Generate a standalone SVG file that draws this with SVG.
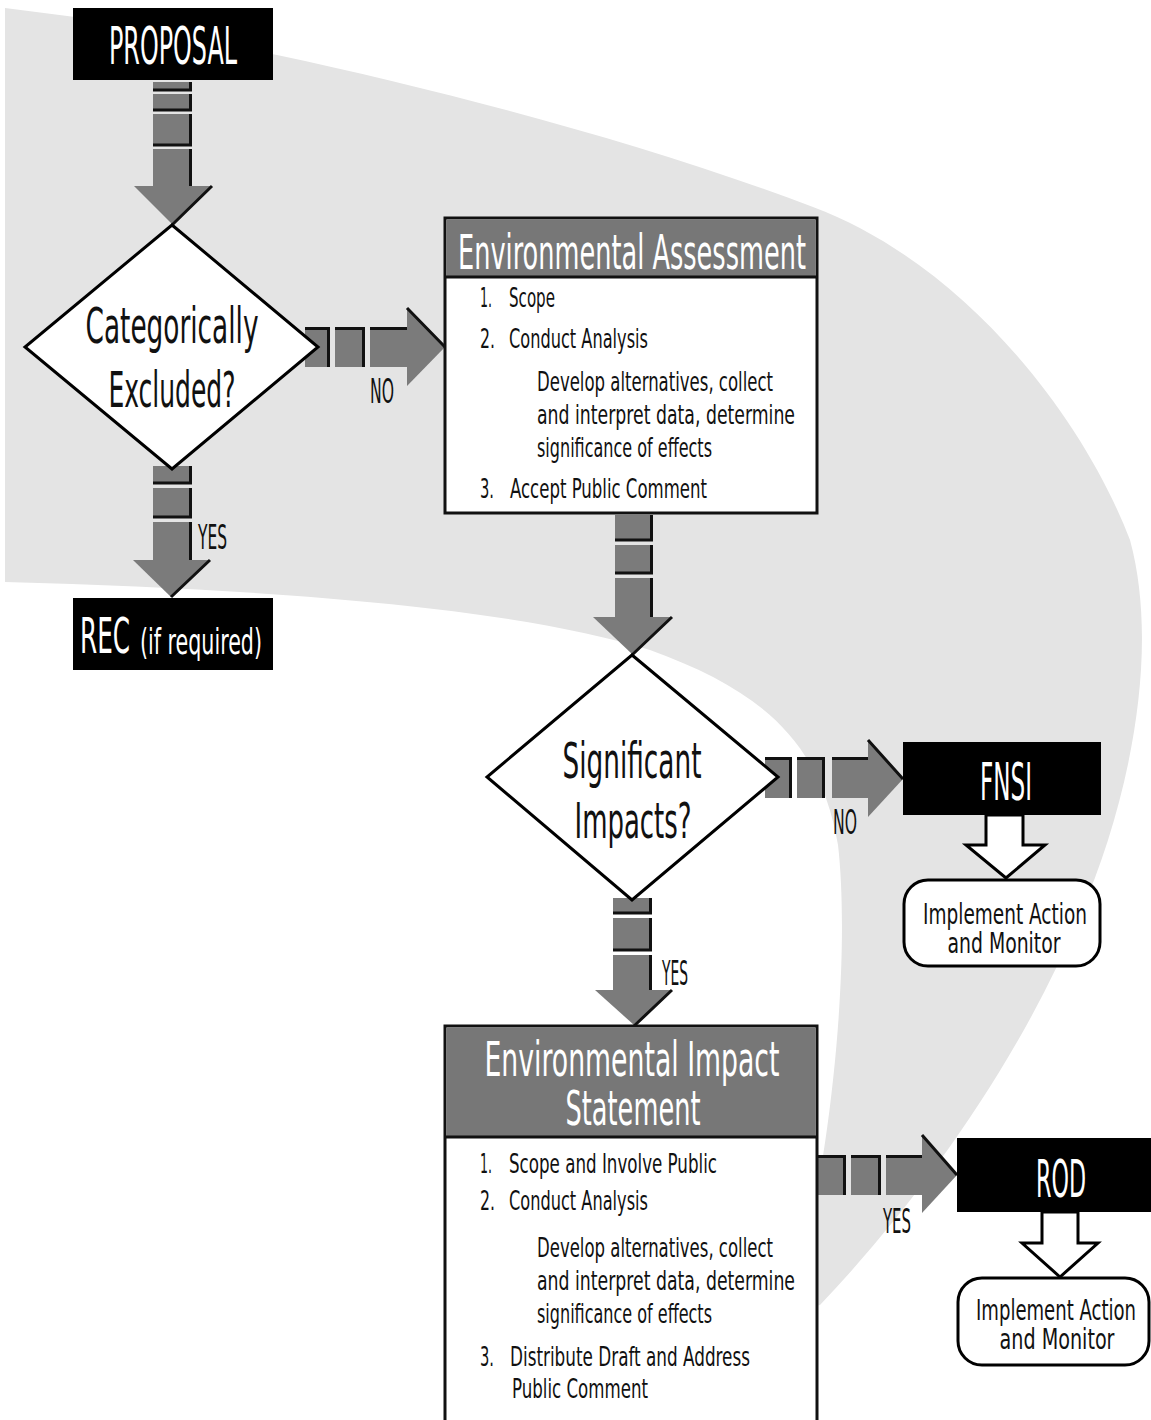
<svg xmlns="http://www.w3.org/2000/svg" width="1151" height="1420" viewBox="0 0 1151 1420">
<style>
text{font-family:"Liberation Sans Narrow","DejaVu Sans Condensed","Liberation Sans",sans-serif;}
.band{fill:#e4e4e4;}
.blk{fill:#000;}
.ar{fill:#7b7b7b;}
.sh{stroke:#111;stroke-width:3;fill:none;}
.dia{fill:#fff;stroke:#000;stroke-width:3;}
.box{fill:#fff;stroke:#111;stroke-width:3;}
.hdr{fill:#777;}
.hol{fill:#fff;stroke:#000;stroke-width:3;stroke-linejoin:miter;}
.rr{fill:#fff;stroke:#000;stroke-width:3;}
.lbl{font-size:34px;fill:#111;}
.body{font-size:27px;fill:#111;}
.dt{font-size:50px;fill:#111;text-anchor:middle;}
.ht{font-size:48px;fill:#fff;text-anchor:middle;}
.bt{font-size:52px;fill:#fff;text-anchor:middle;}
.im{font-size:28px;fill:#111;text-anchor:middle;}
</style>
<rect width="1151" height="1420" fill="#fff"/>
<path class="band" d="M5,8 L75,17 L277,55 C450,92 650,145 813,207 C960,262 1080,410 1130,540 C1160,650 1130,800 1080,915 C1020,1060 920,1200 820,1305 L790,1312 C835,1150 850,950 838,845 C820,740 760,690 650,650 C520,610 300,590 5,582 Z"/>

<g id="connectors">
  <g>
    <rect class="ar" x="153" y="82" width="39" height="8"/>
    <rect class="ar" x="153" y="94" width="39" height="16"/>
    <rect class="ar" x="153" y="114" width="39" height="31"/>
    <rect class="ar" x="153" y="149" width="39" height="38"/>
    <polygon class="ar" points="134,186 212,186 172,224"/>
    <path class="sh" d="M190.5,82 V90 H153 M190.5,94 V110 H153 M190.5,114 V145 H153 M190.5,149 V186 M212,186 L172,225"/>
  </g>
  <g>
    <rect class="ar" x="153" y="466" width="39" height="17"/>
    <rect class="ar" x="153" y="488" width="39" height="29"/>
    <rect class="ar" x="153" y="522" width="39" height="39"/>
    <polygon class="ar" points="133,560 210,560 171,597"/>
    <path class="sh" d="M190.5,466 V483 H153 M190.5,488 V517 H153 M190.5,522 V560 M210,560 L171,597"/>
    <text class="lbl" x="198" y="549" textLength="29" lengthAdjust="spacingAndGlyphs">YES</text>
  </g>
  <g>
    <rect class="ar" x="305" y="327" width="25" height="40"/>
    <rect class="ar" x="335" y="327" width="30" height="40"/>
    <rect class="ar" x="370" y="327" width="38" height="40"/>
    <polygon class="ar" points="407,308 445,347 407,386"/>
    <path class="sh" d="M305,328.5 H328.5 V367 M335,328.5 H363.5 V367 M370,328.5 H407 M407,308 L445,347"/>
    <text class="lbl" x="370" y="403" textLength="24" lengthAdjust="spacingAndGlyphs">NO</text>
  </g>
  <g>
    <rect class="ar" x="615" y="515" width="38" height="25"/>
    <rect class="ar" x="615" y="545" width="38" height="28"/>
    <rect class="ar" x="615" y="578" width="38" height="40"/>
    <polygon class="ar" points="593,617 672,617 632,654"/>
    <path class="sh" d="M651.5,515 V540 H615 M651.5,545 V573 H615 M651.5,578 V617 M672,617 L632,655"/>
  </g>
  <g>
    <rect class="ar" x="765" y="757" width="27" height="41"/>
    <rect class="ar" x="797" y="757" width="28" height="41"/>
    <rect class="ar" x="832" y="757" width="37" height="41"/>
    <polygon class="ar" points="868,740 903,779 868,817"/>
    <path class="sh" d="M765,758.5 H790.5 V798 M797,758.5 H823.5 V798 M832,758.5 H868 M868,740 L903,779"/>
    <text class="lbl" x="833" y="834" textLength="24" lengthAdjust="spacingAndGlyphs">NO</text>
  </g>
  <g>
    <rect class="ar" x="613" y="898" width="39" height="15"/>
    <rect class="ar" x="613" y="918" width="39" height="32"/>
    <rect class="ar" x="613" y="955" width="39" height="36"/>
    <polygon class="ar" points="595,990 672,990 634,1025"/>
    <path class="sh" d="M650.5,898 V913 H613 M650.5,918 V950 H613 M650.5,955 V990 M672,990 L634,1026"/>
    <text class="lbl" x="662" y="985" textLength="26" lengthAdjust="spacingAndGlyphs">YES</text>
  </g>
  <g>
    <rect class="ar" x="818" y="1155" width="28" height="40"/>
    <rect class="ar" x="851" y="1155" width="30" height="40"/>
    <rect class="ar" x="886" y="1155" width="37" height="40"/>
    <polygon class="ar" points="922,1135 957,1175 922,1213"/>
    <path class="sh" d="M818,1156.5 H844.5 V1195 M851,1156.5 H879.5 V1195 M886,1156.5 H922 M922,1135 L957,1175"/>
    <text class="lbl" x="883" y="1233" textLength="28" lengthAdjust="spacingAndGlyphs">YES</text>
  </g>
  <polygon class="hol" points="986,815 1023,815 1023,845 1045,845 1006,878 966,845 986,845"/>
  <polygon class="hol" points="1042,1212 1078,1212 1078,1243 1098,1243 1060,1277 1022,1243 1042,1243"/>
</g>

<g id="proposal">
  <rect class="blk" x="73" y="8" width="200" height="72"/>
  <text class="bt" x="173" y="64" textLength="128" lengthAdjust="spacingAndGlyphs">PROPOSAL</text>
</g>

<g id="categorically-excluded">
  <polygon class="dia" points="172,225 318,347 172,469 25,347"/>
  <text class="dt" x="172" y="343" textLength="173" lengthAdjust="spacingAndGlyphs">Categorically</text>
  <text class="dt" x="172" y="407" textLength="127" lengthAdjust="spacingAndGlyphs">Excluded?</text>
</g>

<g id="rec">
  <rect class="blk" x="73" y="598" width="200" height="72"/>
  <text x="80" y="653" style="font-size:50px;fill:#fff"><tspan textLength="50" lengthAdjust="spacingAndGlyphs">REC</tspan><tspan x="140" y="654" style="font-size:36px" textLength="122" lengthAdjust="spacingAndGlyphs">(if required)</tspan></text>
</g>

<g id="environmental-assessment">
  <rect class="box" x="445" y="218" width="372" height="295"/>
  <rect class="hdr" x="446.5" y="219.5" width="369" height="57"/>
  <line x1="445" y1="277" x2="817" y2="277" stroke="#111" stroke-width="3"/>
  <text class="ht" x="632" y="269" textLength="348" lengthAdjust="spacingAndGlyphs">Environmental Assessment</text>
  <text class="body" x="480" y="307" textLength="12" lengthAdjust="spacingAndGlyphs">1.</text>
  <text class="body" x="509" y="307" textLength="46" lengthAdjust="spacingAndGlyphs">Scope</text>
  <text class="body" x="480" y="348" textLength="15" lengthAdjust="spacingAndGlyphs">2.</text>
  <text class="body" x="509" y="348" textLength="139" lengthAdjust="spacingAndGlyphs">Conduct Analysis</text>
  <text class="body" x="537" y="391" textLength="236" lengthAdjust="spacingAndGlyphs">Develop alternatives, collect</text>
  <text class="body" x="537" y="424" textLength="258" lengthAdjust="spacingAndGlyphs">and interpret data, determine</text>
  <text class="body" x="537" y="457" textLength="175" lengthAdjust="spacingAndGlyphs">significance of effects</text>
  <text class="body" x="480" y="498" textLength="14" lengthAdjust="spacingAndGlyphs">3.</text>
  <text class="body" x="510" y="498" textLength="197" lengthAdjust="spacingAndGlyphs">Accept Public Comment</text>
</g>

<g id="significant-impacts">
  <polygon class="dia" points="632,655 778,777 632,900 487,777"/>
  <text class="dt" x="632" y="778" textLength="139" lengthAdjust="spacingAndGlyphs">Significant</text>
  <text class="dt" x="633" y="838" textLength="117" lengthAdjust="spacingAndGlyphs">Impacts?</text>
</g>

<g id="fnsi">
  <rect class="blk" x="903" y="742" width="198" height="73"/>
  <text class="bt" x="1006" y="800" textLength="52" lengthAdjust="spacingAndGlyphs">FNSI</text>
</g>

<g id="implement-fnsi">
  <rect class="rr" x="904" y="880" width="196" height="86" rx="24"/>
  <text class="im" x="1005" y="924" textLength="164" lengthAdjust="spacingAndGlyphs">Implement Action</text>
  <text class="im" x="1004" y="953" textLength="113" lengthAdjust="spacingAndGlyphs">and Monitor</text>
</g>

<g id="environmental-impact-statement">
  <rect class="box" x="445" y="1026" width="372" height="400"/>
  <rect class="hdr" x="446.5" y="1027.5" width="369" height="109"/>
  <line x1="445" y1="1137" x2="817" y2="1137" stroke="#111" stroke-width="3"/>
  <text class="ht" x="632" y="1076" textLength="295" lengthAdjust="spacingAndGlyphs">Environmental Impact</text>
  <text class="ht" x="633" y="1125" textLength="135" lengthAdjust="spacingAndGlyphs">Statement</text>
  <text class="body" x="480" y="1173" textLength="12" lengthAdjust="spacingAndGlyphs">1.</text>
  <text class="body" x="509" y="1173" textLength="208" lengthAdjust="spacingAndGlyphs">Scope and Involve Public</text>
  <text class="body" x="480" y="1210" textLength="15" lengthAdjust="spacingAndGlyphs">2.</text>
  <text class="body" x="509" y="1210" textLength="139" lengthAdjust="spacingAndGlyphs">Conduct Analysis</text>
  <text class="body" x="537" y="1257" textLength="236" lengthAdjust="spacingAndGlyphs">Develop alternatives, collect</text>
  <text class="body" x="537" y="1290" textLength="258" lengthAdjust="spacingAndGlyphs">and interpret data, determine</text>
  <text class="body" x="537" y="1323" textLength="175" lengthAdjust="spacingAndGlyphs">significance of effects</text>
  <text class="body" x="480" y="1366" textLength="14" lengthAdjust="spacingAndGlyphs">3.</text>
  <text class="body" x="510" y="1366" textLength="240" lengthAdjust="spacingAndGlyphs">Distribute Draft and Address</text>
  <text class="body" x="512" y="1398" textLength="136" lengthAdjust="spacingAndGlyphs">Public Comment</text>
</g>

<g id="rod">
  <rect class="blk" x="957" y="1138" width="194" height="74"/>
  <text class="bt" x="1061" y="1197" textLength="50" lengthAdjust="spacingAndGlyphs">ROD</text>
</g>

<g id="implement-rod">
  <rect class="rr" x="958" y="1278" width="191" height="87" rx="24"/>
  <text class="im" x="1056" y="1320" textLength="160" lengthAdjust="spacingAndGlyphs">Implement Action</text>
  <text class="im" x="1057" y="1349" textLength="115" lengthAdjust="spacingAndGlyphs">and Monitor</text>
</g>
</svg>
